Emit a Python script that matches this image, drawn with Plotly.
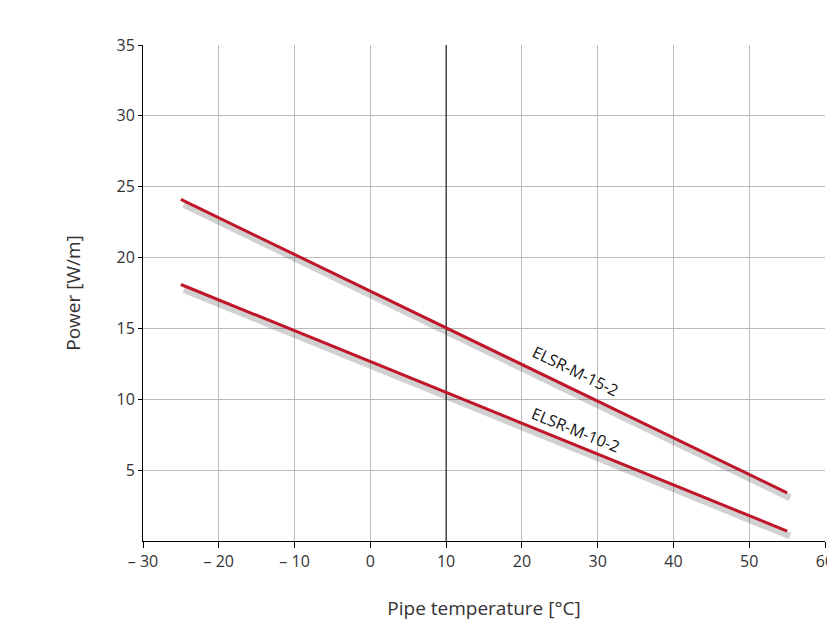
import plotly.graph_objects as go

temps = [-25, 55]
p15 = [24.1, 3.4]
p10 = [18.1, 0.7]
xticks = [-30, -20, -10, 0, 10, 20, 30, 40, 50, 60]
xlabels = ["– 30", "– 20", "– 10", "0", "10", "20", "30", "40", "50", "60"]
yticks = [5, 10, 15, 20, 25, 30, 35]

red = "#c0162a"
fig = go.Figure()
fig.add_trace(go.Scatter(x=[10, 10], y=[0, 35], mode="lines", line=dict(color="black", width=1),
                         hoverinfo="skip", showlegend=False))
for ys in (p15, p10):
    fig.add_trace(go.Scatter(x=[t + 0.4 for t in temps], y=[v - 0.35 for v in ys], mode="lines",
                             line=dict(color="rgba(0,0,0,0.18)", width=7), hoverinfo="skip", showlegend=False))
for ys in (p15, p10):
    fig.add_trace(go.Scatter(x=temps, y=ys, mode="lines", line=dict(color=red, width=3), showlegend=False))

fig.add_annotation(x=27.1, y=12.0, text="ELSR-M-15-2", showarrow=False, textangle=26,
                   font=dict(family="Open Sans", size=16, color="#111"))
fig.add_annotation(x=27.1, y=7.8, text="ELSR-M-10-2", showarrow=False, textangle=22,
                   font=dict(family="Open Sans", size=16, color="#111"))

fig.update_layout(
    width=835, height=625, plot_bgcolor="white", paper_bgcolor="white",
    margin=dict(l=135, r=18, t=37, b=92),
    font=dict(family="Open Sans", size=16, color="#333"),
    xaxis=dict(range=[-30, 60], tickvals=xticks, ticktext=xlabels, showgrid=True, gridcolor="#bbbbbb",
               showline=True, linecolor="black", ticks="outside", tickcolor="black", ticklen=6,
               zeroline=False, automargin=False, title=dict(text="Pipe temperature [°C]", standoff=30)),
    yaxis=dict(range=[0, 35], tickvals=yticks, showgrid=True, gridcolor="#bbbbbb",
               showline=True, linecolor="black", ticks="outside", tickcolor="black", ticklen=4,
               zeroline=False, automargin=False, title=dict(text="Power [W/m]", standoff=30)),
)
fig.write_html("out.html")
